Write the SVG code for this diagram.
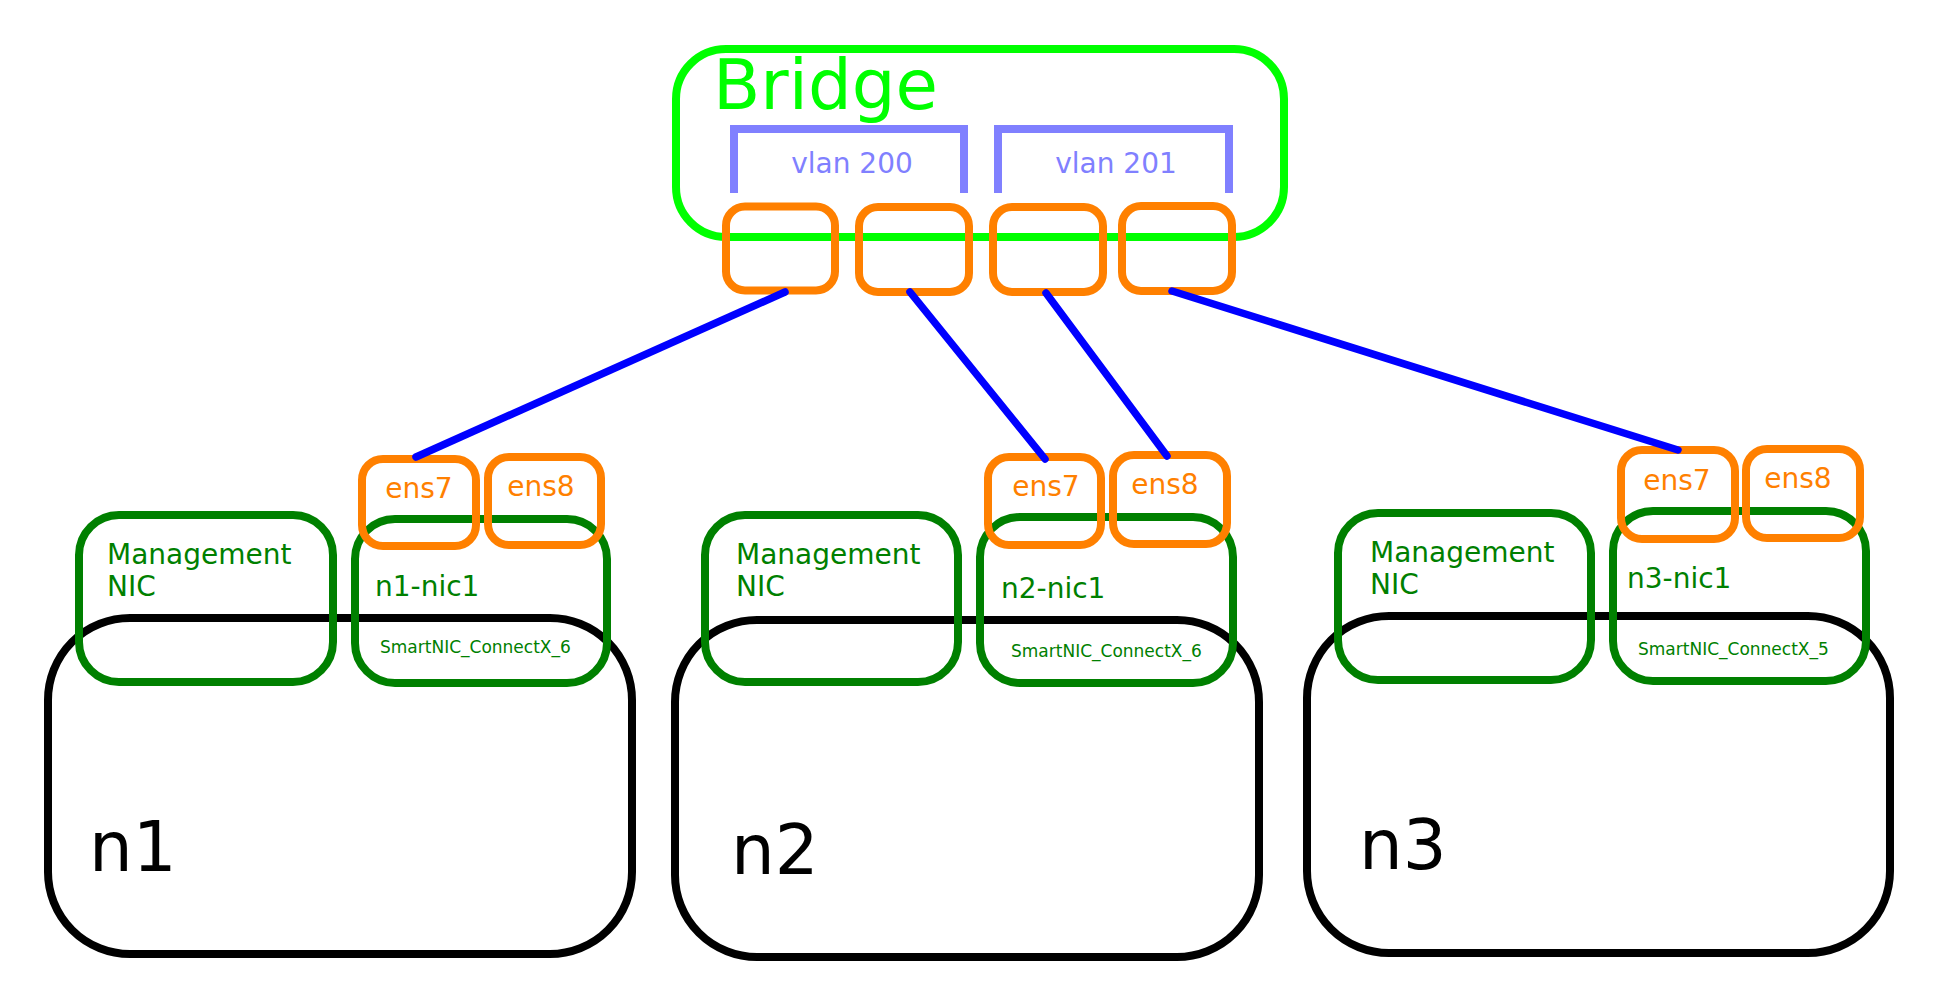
<svg xmlns="http://www.w3.org/2000/svg" width="1934" height="991" viewBox="0 0 1934 991">
<style>
text{font-family:"DejaVu Sans","Liberation Sans",sans-serif}
.host{fill:none;stroke:#000;stroke-width:8}
.nic{fill:none;stroke:#008000;stroke-width:8}
.port{fill:none;stroke:#ff8000;stroke-width:8}
.bridge{fill:none;stroke:#00ff00;stroke-width:8}
.vlan{fill:none;stroke:#8080ff;stroke-width:8}
.link{fill:none;stroke:#0000ff;stroke-width:7.5;stroke-linecap:round}
.t-nic{fill:#008000;font-size:28px}
.t-small{fill:#008000;font-size:17px}
.t-port{fill:#ff8000;font-size:28px;text-anchor:middle}
.t-vlan{fill:#8080ff;font-size:28px;text-anchor:middle}
.t-host{fill:#000;font-size:69px}
</style>
<rect width="1934" height="991" fill="#fff"/>

<g id="bridge">
  <rect class="bridge" x="676" y="49" width="608" height="188" rx="50"/>
  <text x="713" y="109" fill="#00ff00" font-size="69px">Bridge</text>
  <g id="vlan200">
    <path class="vlan" d="M734,193 V129 H964 V193"/>
    <text class="t-vlan" x="852" y="173">vlan 200</text>
  </g>
  <g id="vlan201">
    <path class="vlan" d="M998,193 V129 H1229 V193"/>
    <text class="t-vlan" x="1116" y="173">vlan 201</text>
  </g>
  <rect class="port" x="726" y="206.5" width="109" height="84" rx="19"/>
  <rect class="port" x="859" y="207" width="110" height="85" rx="19"/>
  <rect class="port" x="993" y="207" width="110" height="85" rx="19"/>
  <rect class="port" x="1122" y="206" width="110" height="85" rx="19"/>
</g>

<g id="n1">
  <rect class="host" x="48" y="618" width="584" height="336" rx="82"/>
  <rect class="nic" x="79" y="515" width="254" height="167" rx="40"/>
  <text class="t-nic" x="107" y="564">Management</text>
  <text class="t-nic" x="107" y="596">NIC</text>
  <rect class="nic" x="355" y="519" width="252" height="164" rx="40"/>
  <text class="t-nic" x="375" y="596">n1-nic1</text>
  <text class="t-small" x="380" y="653">SmartNIC_ConnectX_6</text>
  <rect class="port" x="362" y="459" width="114" height="87" rx="21"/>
  <text class="t-port" x="419" y="498">ens7</text>
  <rect class="port" x="488" y="457" width="113" height="88" rx="21"/>
  <text class="t-port" x="541" y="496">ens8</text>
  <text class="t-host" x="89" y="871">n1</text>
</g>

<g id="n2">
  <rect class="host" x="675" y="620" width="584" height="337" rx="82"/>
  <rect class="nic" x="705" y="515" width="253" height="167" rx="40"/>
  <text class="t-nic" x="736" y="564">Management</text>
  <text class="t-nic" x="736" y="596">NIC</text>
  <rect class="nic" x="980" y="517" width="253" height="166" rx="40"/>
  <text class="t-nic" x="1001" y="598">n2-nic1</text>
  <text class="t-small" x="1011" y="657">SmartNIC_ConnectX_6</text>
  <rect class="port" x="988" y="457" width="113" height="88" rx="21"/>
  <text class="t-port" x="1046" y="496">ens7</text>
  <rect class="port" x="1113" y="455" width="114" height="89" rx="21"/>
  <text class="t-port" x="1165" y="494">ens8</text>
  <text class="t-host" x="731" y="874">n2</text>
</g>

<g id="n3">
  <rect class="host" x="1307" y="616" width="583" height="337" rx="82"/>
  <rect class="nic" x="1338" y="513" width="253" height="167" rx="40"/>
  <text class="t-nic" x="1370" y="562">Management</text>
  <text class="t-nic" x="1370" y="594">NIC</text>
  <rect class="nic" x="1613" y="511" width="253" height="170" rx="40"/>
  <text class="t-nic" x="1627" y="588">n3-nic1</text>
  <text class="t-small" x="1638" y="655">SmartNIC_ConnectX_5</text>
  <rect class="port" x="1621" y="450" width="114" height="89" rx="21"/>
  <text class="t-port" x="1677" y="490">ens7</text>
  <rect class="port" x="1746" y="449" width="114" height="89" rx="21"/>
  <text class="t-port" x="1798" y="488">ens8</text>
  <text class="t-host" x="1359" y="869">n3</text>
</g>

<g id="connectors">
  <line class="link" x1="785" y1="292" x2="416" y2="457"/>
  <line class="link" x1="910" y1="292" x2="1045" y2="459"/>
  <line class="link" x1="1046" y1="293" x2="1167" y2="456"/>
  <line class="link" x1="1172" y1="291" x2="1678" y2="450"/>
</g>
</svg>
